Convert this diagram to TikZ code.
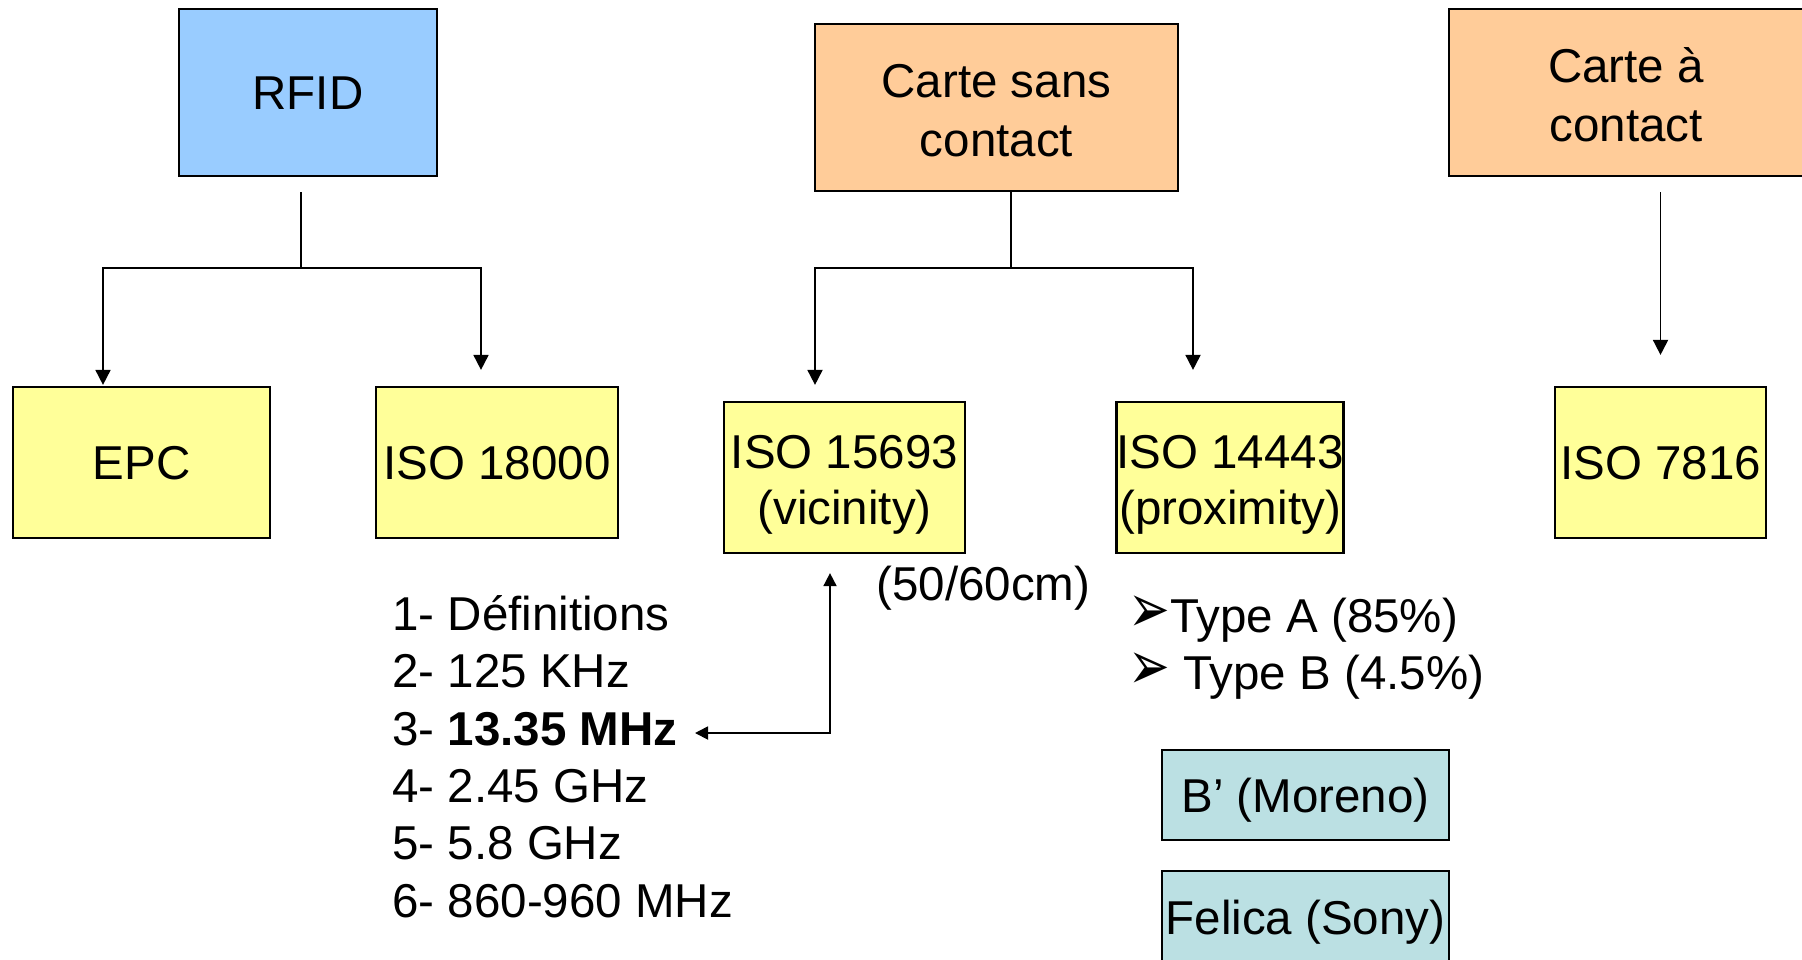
\documentclass[tikz,border=0pt]{standalone}
\usepackage{fontspec}
\setmainfont{Liberation Sans}
\newfontfamily\dvsans{DejaVu Sans}
\usetikzlibrary{arrows.meta}
\definecolor{rfidblue}{HTML}{99CCFF}
\definecolor{cardorange}{HTML}{FFCC99}
\definecolor{isoyellow}{HTML}{FFFF99}
\definecolor{tealbox}{HTML}{BBE0E3}
\newcommand{\bularrow}{{\dvsans\scalebox{1.05}[1.45]{➢}}}
\tikzset{
  box/.style={draw=black, line width=1.1pt, inner sep=0pt, align=center,
    font=\fontsize{23.75}{28.75}\selectfont},
  oneline/.style={text height=17pt, text depth=0pt},
  twoorange/.style={font=\fontsize{23.75}{29.3}\selectfont, text height=48.5pt, text depth=0pt},
  twoyellow/.style={font=\fontsize{23.75}{28.15}\selectfont, text height=47.35pt, text depth=0pt},
  blue/.style={box, fill=rfidblue},
  orange/.style={box, fill=cardorange},
  yellow/.style={box, fill=isoyellow},
  teal/.style={box, fill=tealbox},
  txt/.style={inner sep=0pt, anchor=base west, font=\fontsize{23.75}{28.75}\selectfont},
  link/.style={line width=0.9pt},
  arr/.style={line width=0.9pt, -{Triangle[width=7.5pt,length=7.5pt]}},
  dblarr/.style={line width=0.9pt, {Triangle[width=6.5pt,length=6.5pt]}-{Triangle[width=6.5pt,length=6.5pt]}}
}
\begin{document}
\begin{tikzpicture}[x=0.5pt,y=-0.5pt]
\useasboundingbox (0,0) rectangle (1802,959);
% top boxes
\node[blue, oneline, minimum width=129pt, minimum height=83.5pt] (rfid) at (308,92.5) {RFID};
\node[orange, twoorange, minimum width=181.5pt, minimum height=83.5pt] (csc) at (996.5,107.5) {Carte sans\\contact};
\node[orange, twoorange, minimum width=177pt, minimum height=83.5pt] (cac) at (1626,92.5) {Carte à\\contact};
% second row
\node[yellow, oneline, minimum width=128.5pt, minimum height=75.5pt] (epc) at (141.5,462.5) {EPC};
\node[yellow, oneline, minimum width=121pt, minimum height=75.5pt] (iso18000) at (497,462.5) {ISO 18000};
\node[yellow, twoyellow, minimum width=120.5pt, minimum height=75.5pt] (iso15693) at (844.5,477.5) {ISO 15693\\(vicinity)};
\node[yellow, twoyellow, minimum width=113pt, minimum height=75.5pt] (iso14443) at (1230,477.5) {ISO 14443\\(proximity)};
\node[yellow, oneline, minimum width=105.5pt, minimum height=75.5pt] (iso7816) at (1660.5,462.5) {ISO 7816};
% teal boxes
\node[teal, oneline, minimum width=143.5pt, minimum height=45pt] (moreno) at (1305.5,795) {B’ (Moreno)};
\node[teal, oneline, minimum width=143.5pt, minimum height=46pt] (felica) at (1305.5,917) {Felica (Sony)};
% list
\node[txt] (l1) at (392,630) {1- Définitions};
\node[txt] (l2) at (392,687) {2- 125 KHz};
\node[txt] (l3) at (392,745) {3- \textbf{13.35 MHz}};
\node[txt] (l4) at (392,802) {4- 2.45 GHz};
\node[txt] (l5) at (392,859) {5- 5.8 GHz};
\node[txt] (l6) at (392,917) {6- 860-960 MHz};
% other texts
\node[txt] (dist) at (876,600) {(50/60cm)};
\node[txt] (ta) at (1128,632) {\bularrow Type A (85\%)};
\node[txt] (tb) at (1128,689) {\bularrow{} Type B (4.5\%)};
% connectors RFID
\coordinate (j1) at ([xshift=-3.5pt,yshift=-7.5pt]rfid.south);
\draw[link] (j1) -- ++(0,76) coordinate (h1);
\draw[arr] (h1) -| ([xshift=-19.25pt,yshift=0.5pt]epc.north);
\draw[arr] (h1) -| ([xshift=-8pt,yshift=8pt]iso18000.north);
% connectors Carte sans contact
\coordinate (j2) at ([xshift=7.25pt]csc.south);
\draw[link] (j2) -- ++(0,76) coordinate (h2);
\draw[arr] (h2) -| ([xshift=-14.75pt,yshift=8pt]iso15693.north);
\draw[arr] (h2) -| ([xshift=-18.5pt,yshift=15.5pt]iso14443.north);
% Carte a contact
\draw[arr] ([xshift=17.25pt,yshift=-7.5pt]cac.south) -- ([yshift=15.5pt]iso7816.north);
% double arrow to list item
\coordinate (a3) at (695,733);
\draw[dblarr] ([xshift=-7.25pt,yshift=-9.5pt]iso15693.south) |- (a3);
\end{tikzpicture}
\end{document}
